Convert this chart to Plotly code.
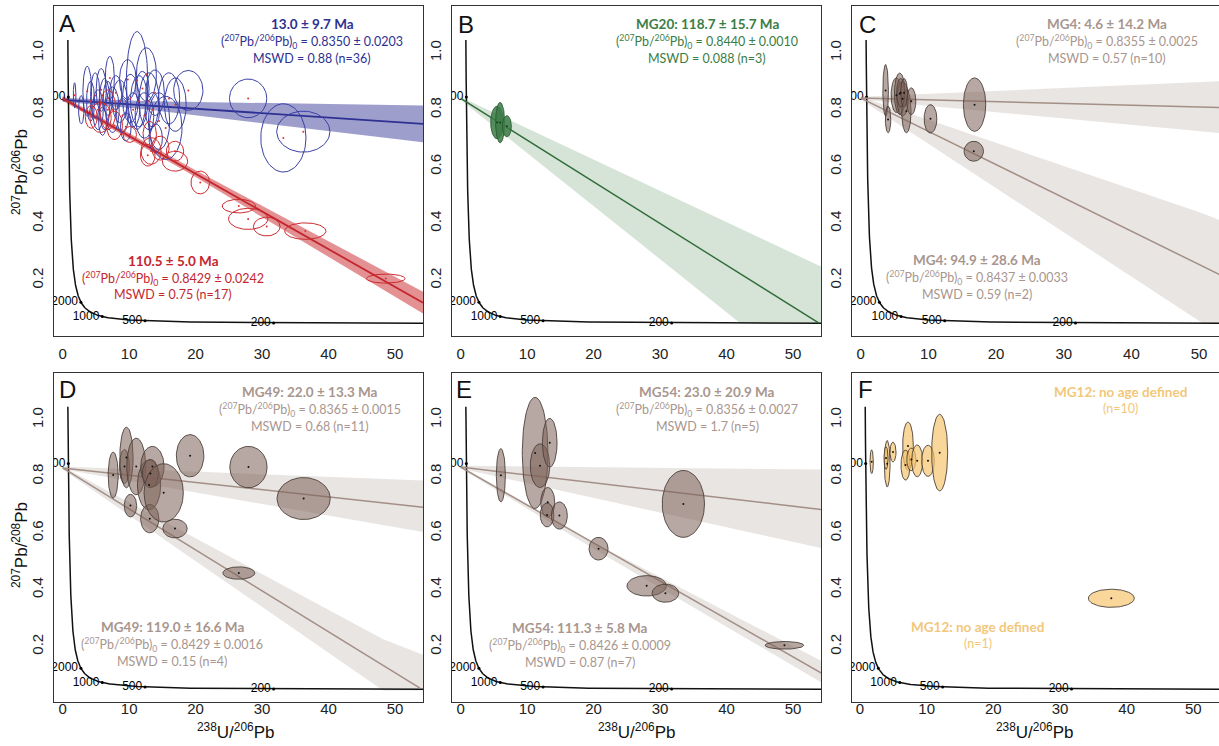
import numpy as np
import plotly.graph_objects as go

W, H = 1219, 746

# ---------------- concordia constants ----------------
LAMBDA_238 = 1.55125e-10
LAMBDA_235 = 9.8485e-10
U_RATIO = 137.88
concordia_age_min, concordia_age_max = 100, 5300   # Ma
concordia_tick_ages = [200, 500, 1000, 2000, 5000]
concordia_tick_labels = ["200", "500", "1000", "2000", "5000"]

# ---------------- ellipse data (x, y, half-width, half-height) ----------------
A_red_x = [48.6, 36.5, 30.7, 27.9, 26.5, 20.7, 16.9, 16.9, 14.7, 13.3, 13.1, 12.8, 10.1, 7.8, 5.7, 4.3, 6.8]
A_red_y = [0.206, 0.373, 0.389, 0.416, 0.461, 0.544, 0.619, 0.654, 0.665, 0.655, 0.715, 0.640, 0.713, 0.745, 0.773, 0.775, 0.80]
A_red_rx = [2.9, 3.1, 2.0, 2.95, 2.5, 1.4, 1.9, 1.3, 1.3, 1.5, 1.0, 1.1, 1.0, 1.2, 1.6, 0.9, 1.2]
A_red_ry = [0.016, 0.029, 0.033, 0.037, 0.024, 0.040, 0.035, 0.035, 0.042, 0.047, 0.044, 0.038, 0.028, 0.050, 0.053, 0.040, 0.070]

A_blue_x = [1.8, 3.7, 4.2, 4.9, 5.3, 5.8, 6.3, 6.8, 7.1, 7.5, 8.0, 8.6, 9.0, 9.8, 10.2, 10.6, 11.2, 11.5,
            12.0, 12.3, 12.6, 13.0, 13.5, 13.9, 14.5, 15.5, 16.0, 16.95, 18.9, 27.9, 33.2, 36.2, 2.8, 6.0, 9.5, 14.0]
A_blue_y = [0.851, 0.865, 0.83, 0.85, 0.80, 0.87, 0.82, 0.84, 0.912, 0.80, 0.86, 0.83, 0.78, 0.906, 0.84, 0.80, 0.903, 0.83,
            0.875, 0.78, 0.924, 0.83, 0.80, 0.86, 0.76, 0.736, 0.84, 0.818, 0.868, 0.840, 0.701, 0.723, 0.80, 0.76, 0.74, 0.70]
A_blue_rx = [0.2, 0.65, 0.6, 0.7, 0.8, 0.75, 0.8, 0.7, 0.68, 1.0, 0.9, 1.1, 0.9, 1.25, 1.2, 1.0, 1.6, 1.3,
             1.0, 1.4, 1.5, 1.5, 1.1, 1.4, 1.6, 2.45, 1.6, 1.63, 2.2, 2.8, 3.4, 4.0, 0.4, 0.6, 0.8, 1.0]
A_blue_ry = [0.044, 0.088, 0.07, 0.08, 0.07, 0.075, 0.09, 0.06, 0.076, 0.08, 0.06, 0.075, 0.06, 0.07, 0.085, 0.06, 0.172, 0.09,
             0.06, 0.08, 0.094, 0.10, 0.06, 0.08, 0.10, 0.111, 0.09, 0.094, 0.07, 0.068, 0.12, 0.072, 0.05, 0.05, 0.05, 0.05]

B_x = [5.47, 5.94, 6.95]
B_y = [0.755, 0.755, 0.742]
B_rx = [0.95, 0.68, 0.68]
B_ry = [0.057, 0.071, 0.037]

C_x = [3.67, 4.03, 5.27, 5.76, 6.18, 6.74, 7.46, 5.9, 6.4, 10.3, 16.82, 16.7]
C_y = [0.868, 0.766, 0.851, 0.856, 0.839, 0.795, 0.830, 0.86, 0.86, 0.768, 0.818, 0.654]
C_rx = [0.41, 0.40, 0.79, 0.79, 0.86, 0.69, 0.67, 0.6, 0.5, 0.94, 1.65, 1.43]
C_ry = [0.091, 0.047, 0.061, 0.073, 0.061, 0.076, 0.047, 0.05, 0.05, 0.050, 0.094, 0.035]

D_x = [7.6, 9.3, 9.6, 10.2, 11.07, 13.0, 13.1, 13.5, 13.2, 15.2, 16.9, 19.17, 27.95, 26.5, 36.25]
D_y = [0.805, 0.835, 0.867, 0.697, 0.835, 0.77, 0.651, 0.835, 0.81, 0.742, 0.616, 0.873, 0.833, 0.459, 0.722]
D_rx = [0.75, 0.75, 1.0, 0.93, 1.43, 1.75, 1.37, 1.75, 1.2, 2.95, 1.83, 2.07, 2.8, 2.4, 4.0]
D_ry = [0.081, 0.06, 0.107, 0.040, 0.10, 0.088, 0.05, 0.071, 0.05, 0.103, 0.033, 0.0745, 0.073, 0.022, 0.074]

E_x = [6.05, 11.2, 11.94, 13.4, 13.1, 13.0, 14.85, 20.74, 27.98, 30.8, 48.7, 33.5]
E_y = [0.804, 0.883, 0.838, 0.919, 0.709, 0.664, 0.662, 0.545, 0.414, 0.388, 0.204, 0.703]
E_rx = [0.68, 1.93, 1.46, 1.1, 1.05, 1.03, 1.2, 1.43, 2.96, 2.0, 2.9, 3.18]
E_ry = [0.094, 0.196, 0.077, 0.086, 0.052, 0.042, 0.048, 0.040, 0.036, 0.032, 0.0135, 0.118]

F_x = [1.75, 4.08, 3.9, 4.95, 7.2, 6.83, 7.7, 8.58, 10.2, 11.95, 37.7]
F_y = [0.852, 0.845, 0.865, 0.886, 0.907, 0.84, 0.86, 0.855, 0.855, 0.884, 0.37]
F_rx = [0.25, 0.43, 0.3, 0.45, 0.8, 0.68, 0.68, 0.83, 0.95, 1.2, 3.45]
F_ry = [0.042, 0.082, 0.04, 0.035, 0.085, 0.053, 0.04, 0.056, 0.055, 0.135, 0.032]

# ---------------- regression lines: (y at x=0, x end, y end) ----------------
A_blue_line = [0.835, 54.2, 0.750]
A_red_line = [0.840, 54.2, 0.121]
B_line = [0.840, 53.9, 0.049]
C_up_line = [0.841, 52.96, 0.808]
C_lo_line = [0.841, 52.96, 0.221]
D_up_line = [0.830, 54.2, 0.691]
D_lo_line = [0.830, 53.75, 0.053]
E_up_line = [0.833, 54.26, 0.683]
E_lo_line = [0.833, 54.26, 0.106]

# ---------------- error envelopes: x, top edge, bottom edge ----------------
A_blue_band_x = [0, 13, 54.2]
A_blue_band_top = [0.842, 0.830, 0.815]
A_blue_band_bot = [0.828, 0.800, 0.686]
A_red_band_x = [0, 20, 54.2]
A_red_band_top = [0.848, 0.587, 0.160]
A_red_band_bot = [0.832, 0.563, 0.083]
B_band_x = [0, 42.1, 54.3]
B_band_top = [0.845, 0.381, 0.247]
B_band_bot = [0.835, 0.048, 0.048]
C_up_band_x = [0, 52.96]
C_up_band_top = [0.846, 0.900]
C_up_band_bot = [0.836, 0.718]
C_lo_band_x = [0, 50.6, 52.96]
C_lo_band_top = [0.846, 0.435, 0.412]
C_lo_band_bot = [0.836, 0.048, 0.048]
D_up_band_x = [0, 54.2]
D_up_band_top = [0.835, 0.786]
D_up_band_bot = [0.825, 0.604]
D_lo_band_x = [0, 48.2, 54.2]
D_lo_band_top = [0.835, 0.225, 0.171]
D_lo_band_bot = [0.825, 0.045, 0.045]
E_up_band_x = [0, 54.4]
E_up_band_top = [0.838, 0.824]
E_up_band_bot = [0.828, 0.546]
E_lo_band_x = [0, 20, 54.4]
E_lo_band_top = [0.838, 0.567, 0.147]
E_lo_band_bot = [0.828, 0.545, 0.071]

# ---------------- text ----------------
panel_letters = ["A", "B", "C", "D", "E", "F"]
iso = "(<sup>207</sup>Pb/<sup>206</sup>Pb)<sub>0</sub> = "
A_top_text = ["<b>13.0 ± 9.7 Ma</b>", iso + "0.8350 ± 0.0203", "MSWD = 0.88 (n=36)"]
A_bot_text = ["<b>110.5 ± 5.0 Ma</b>", iso + "0.8429 ± 0.0242", "MSWD = 0.75 (n=17)"]
B_text = ["<b>MG20: 118.7 ± 15.7 Ma</b>", iso + "0.8440 ± 0.0010", "MSWD = 0.088 (n=3)"]
C_top_text = ["<b>MG4: 4.6 ± 14.2 Ma</b>", iso + "0.8355 ± 0.0025", "MSWD = 0.57 (n=10)"]
C_bot_text = ["<b>MG4: 94.9 ± 28.6 Ma</b>", iso + "0.8437 ± 0.0033", "MSWD = 0.59 (n=2)"]
D_top_text = ["<b>MG49: 22.0 ± 13.3 Ma</b>", iso + "0.8365 ± 0.0015", "MSWD = 0.68 (n=11)"]
D_bot_text = ["<b>MG49: 119.0 ± 16.6 Ma</b>", iso + "0.8429 ± 0.0016", "MSWD = 0.15 (n=4)"]
E_top_text = ["<b>MG54: 23.0 ± 20.9 Ma</b>", iso + "0.8356 ± 0.0027", "MSWD = 1.7 (n=5)"]
E_bot_text = ["<b>MG54: 111.3 ± 5.8 Ma</b>", iso + "0.8426 ± 0.0009", "MSWD = 0.87 (n=7)"]
F_top_text = ["<b>MG12: no age defined</b>", "(n=10)"]
F_bot_text = ["<b>MG12: no age defined</b>", "(n=1)"]
y_title_top = "<sup>207</sup>Pb/<sup>206</sup>Pb"
y_title_bot = "<sup>207</sup>Pb/<sup>208</sup>Pb"
x_title = "<sup>238</sup>U/<sup>206</sup>Pb"
x_ticks = [0, 10, 20, 30, 40, 50]
y_ticks = [0.2, 0.4, 0.6, 0.8, 1.0]
y_tick_text = ["0.2", "0.4", "0.6", "0.8", "1.0"]

# ---------------- styling ----------------
BLUE = "#2e3192"
RED = "#c4262e"
GREEN = "#3a7d45"
TAUPE_TXT = "#a8968e"
TAUPE_LINE = "#a48f86"
YELLOW_TXT = "#f2c77a"
TICK_FONT = "Liberation Sans"
ANN_FONT = "Lato"

# panel boxes in pixels: left, right, top, bottom, x-range
panels = [
    (54, 423, 6, 336, [-1.3, 54.2]),
    (452, 821, 6, 336, [-1.3, 54.2]),
    (852, 1219, 6, 336, [-1.3, 52.95]),
    (54, 423, 373, 702, [-1.3, 54.2]),
    (452, 821, 373, 702, [-1.3, 54.2]),
    (852, 1219, 373, 702, [-1.2, 53.85]),
]
Y_RANGE = [0.004, 1.165]

fig = go.Figure()


def axref(i):
    s = "" if i == 0 else str(i + 1)
    return "x" + s, "y" + s


def add_band(i, bx, btop, bbot, color):
    xa, ya = axref(i)
    xs = list(bx) + list(bx)[::-1]
    ys = list(btop) + list(bbot)[::-1]
    fig.add_trace(go.Scatter(x=xs, y=ys, mode="lines", fill="toself", fillcolor=color,
                             line=dict(width=0), hoverinfo="skip", showlegend=False,
                             xaxis=xa, yaxis=ya))


def add_line(i, ln, color, width=1.5):
    xa, ya = axref(i)
    fig.add_trace(go.Scatter(x=[0, ln[1]], y=[ln[0], ln[2]], mode="lines",
                             line=dict(color=color, width=width), hoverinfo="skip",
                             showlegend=False, xaxis=xa, yaxis=ya))


def add_ellipses(i, ex, ey, erx, ery, line_color, fill_color, dot_color, lw=0.9):
    xa, ya = axref(i)
    t = np.linspace(0, 2 * np.pi, 72)
    for cx, cy, rx, ry in zip(ex, ey, erx, ery):
        fig.add_trace(go.Scatter(x=cx + rx * np.cos(t), y=cy + ry * np.sin(t), mode="lines",
                                 fill="toself" if fill_color else None,
                                 fillcolor=fill_color,
                                 line=dict(color=line_color, width=lw), hoverinfo="skip",
                                 showlegend=False, xaxis=xa, yaxis=ya))
    fig.add_trace(go.Scatter(x=ex, y=ey, mode="markers",
                             marker=dict(size=2, color=dot_color), hoverinfo="skip",
                             showlegend=False, xaxis=xa, yaxis=ya))


def concordia_xy(age_ma):
    t = np.asarray(age_ma, dtype=float) * 1e6
    e8 = np.exp(LAMBDA_238 * t) - 1
    e5 = np.exp(LAMBDA_235 * t) - 1
    return 1 / e8, e5 / e8 / U_RATIO


def add_concordia(i):
    xa, ya = axref(i)
    ages = np.geomspace(concordia_age_min, concordia_age_max, 400)
    cx, cy = concordia_xy(ages)
    fig.add_trace(go.Scatter(x=cx, y=cy, mode="lines", line=dict(color="#111", width=1.5),
                             hoverinfo="skip", showlegend=False, xaxis=xa, yaxis=ya))
    tx, ty = concordia_xy(concordia_tick_ages)
    fig.add_trace(go.Scatter(x=tx, y=ty, mode="markers+text", text=concordia_tick_labels,
                             textposition="middle left", cliponaxis=True,
                             textfont=dict(family=TICK_FONT, size=12, color="black"),
                             marker=dict(size=3, color="black"), hoverinfo="skip",
                             showlegend=False, xaxis=xa, yaxis=ya))


GRAY_BAND = "rgba(130,110,100,0.18)"
FILL_T = "rgba(123,97,87,0.55)"

# Panel A
add_band(0, A_blue_band_x, A_blue_band_top, A_blue_band_bot, "rgba(46,49,146,0.47)")
add_band(0, A_red_band_x, A_red_band_top, A_red_band_bot, "rgba(200,35,40,0.5)")
add_concordia(0)
add_line(0, A_blue_line, BLUE, 1.8)
add_line(0, A_red_line, RED, 1.8)
add_ellipses(0, A_blue_x, A_blue_y, A_blue_rx, A_blue_ry, "#3a3fa6", None, "#d33", 1.0)
add_ellipses(0, A_red_x, A_red_y, A_red_rx, A_red_ry, "#cc2a30", None, "#d33", 1.0)
# Panel B
add_band(1, B_band_x, B_band_top, B_band_bot, "rgba(50,120,60,0.2)")
add_concordia(1)
add_line(1, B_line, "#2f6b37", 1.4)
add_ellipses(1, B_x, B_y, B_rx, B_ry, "#2c5a33", "rgba(60,125,70,0.85)", "#1a3a1f")
# Panel C
add_band(2, C_up_band_x, C_up_band_top, C_up_band_bot, GRAY_BAND)
add_band(2, C_lo_band_x, C_lo_band_top, C_lo_band_bot, GRAY_BAND)
add_concordia(2)
add_line(2, C_up_line, TAUPE_LINE)
add_line(2, C_lo_line, TAUPE_LINE)
add_ellipses(2, C_x, C_y, C_rx, C_ry, "#4a3f3a", FILL_T, "#111")
# Panel D
add_band(3, D_up_band_x, D_up_band_top, D_up_band_bot, GRAY_BAND)
add_band(3, D_lo_band_x, D_lo_band_top, D_lo_band_bot, GRAY_BAND)
add_concordia(3)
add_line(3, D_up_line, TAUPE_LINE)
add_line(3, D_lo_line, TAUPE_LINE)
add_ellipses(3, D_x, D_y, D_rx, D_ry, "#4a3f3a", FILL_T, "#111")
# Panel E
add_band(4, E_up_band_x, E_up_band_top, E_up_band_bot, GRAY_BAND)
add_band(4, E_lo_band_x, E_lo_band_top, E_lo_band_bot, GRAY_BAND)
add_concordia(4)
add_line(4, E_up_line, TAUPE_LINE)
add_line(4, E_lo_line, TAUPE_LINE)
add_ellipses(4, E_x, E_y, E_rx, E_ry, "#4a3f3a", FILL_T, "#111")
# Panel F
add_concordia(5)
add_ellipses(5, F_x, F_y, F_rx, F_ry, "#4a3f3a", "rgba(247,196,110,0.7)", "#111")

# ---------------- axes ----------------
layout_axes = {}
for i, (l, r, t, b, xr) in enumerate(panels):
    s = "" if i == 0 else str(i + 1)
    right_open = i in (2, 5)
    bottom_row = i >= 3
    layout_axes["xaxis" + s] = dict(
        domain=[l / W, r / W], range=xr, anchor="y" + s, showline=True, linecolor="#333",
        linewidth=1.3, mirror=True, ticks="",
        ticklabelstandoff=(-7 if bottom_row else 4),
        tickvals=x_ticks, showgrid=False, zeroline=False,
        tickfont=dict(family=TICK_FONT, size=15, color="#222"))
    layout_axes["yaxis" + s] = dict(
        domain=[1 - b / H, 1 - t / H], range=Y_RANGE, anchor="x" + s, showline=True,
        linecolor="#333", linewidth=1.3, mirror=(not right_open), ticks="",
        ticklabelstandoff=4,
        tickvals=y_ticks, ticktext=y_tick_text, tickangle=-90,
        showgrid=False, zeroline=False,
        tickfont=dict(family=TICK_FONT, size=15, color="#222"))

annotations = []


def px_ann(x, y, text, size, color, family=ANN_FONT, angle=0):
    annotations.append(dict(x=x / W, y=1 - y / H, xref="paper", yref="paper", text=text,
                            showarrow=False, xanchor="center", yanchor="middle",
                            textangle=angle,
                            font=dict(family=family, size=size, color=color)))


def block(cx, cy, lines, color, step=17):
    for k, ln in enumerate(lines):
        px_ann(cx, cy + k * step, ln, 13.5 if k == 0 else 12.5, color)


block(312, 24, A_top_text, BLUE)
block(173, 261, A_bot_text, RED)
block(707, 24, B_text, GREEN)
block(1107, 24, C_top_text, TAUPE_TXT)
block(977, 260, C_bot_text, TAUPE_TXT)
block(310, 392, D_top_text, TAUPE_TXT)
block(172, 627, D_bot_text, TAUPE_TXT)
block(707, 392, E_top_text, TAUPE_TXT)
block(580, 628, E_bot_text, TAUPE_TXT)
block(1120, 392, F_top_text, YELLOW_TXT, 16.5)
block(978, 627, F_bot_text, YELLOW_TXT, 16.5)

letter_pos = [(67, 23), (466, 24), (867, 24), (67, 389), (464, 389), (865, 389)]
for (lx, ly), letter in zip(letter_pos, panel_letters):
    px_ann(lx, ly, letter, 24, "#111", family=TICK_FONT)

px_ann(20, 172, y_title_top, 17, "#111", family=TICK_FONT, angle=-90)
px_ann(20, 545, y_title_bot, 17, "#111", family=TICK_FONT, angle=-90)
for xc in (235, 636, 1034):
    px_ann(xc, 731, x_title, 17, "#111", family=TICK_FONT)

fig.update_layout(width=W, height=H, margin=dict(l=0, r=0, t=0, b=0),
                  paper_bgcolor="white", plot_bgcolor="white", showlegend=False,
                  annotations=annotations, **layout_axes)

fig.write_html("out.html", config={"displayModeBar": False},
               post_script="document.body.style.margin='0';")
